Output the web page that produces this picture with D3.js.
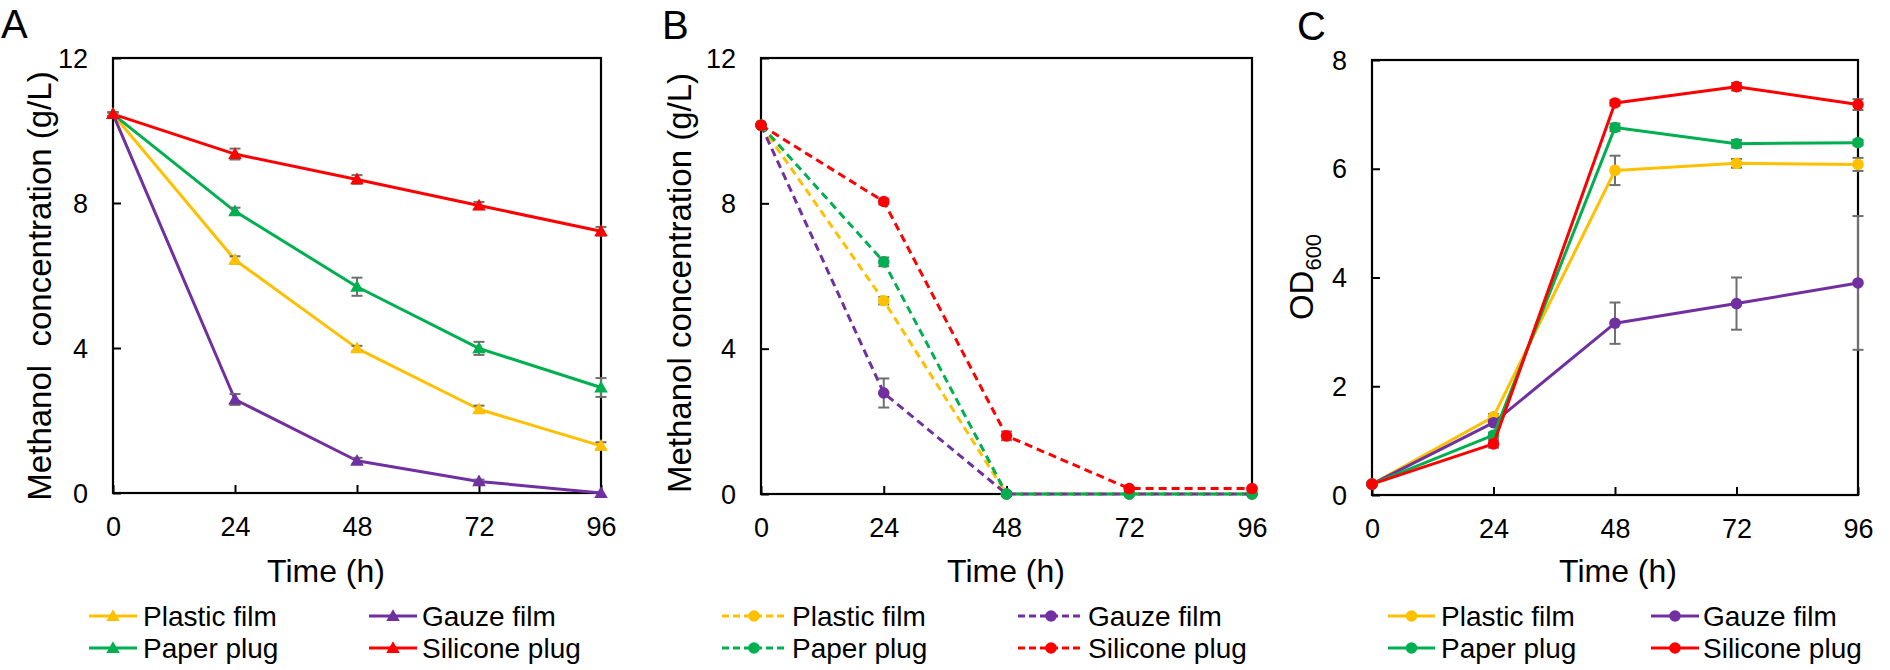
<!DOCTYPE html>
<html><head><meta charset="utf-8">
<script src="https://cdn.jsdelivr.net/npm/d3@7"></script>
<style>
html,body{margin:0;padding:0;background:#fff;}
svg text{font-family:"Liberation Sans",Arial,sans-serif;fill:#000;}
</style></head>
<body>
<svg id="chart" width="1890" height="670"></svg>
<script>
// ---------- data ----------
const times = [0, 24, 48, 72, 96];
const seriesNames = ["Plastic film", "Gauze film", "Paper plug", "Silicone plug"];
const seriesColors = ["#FFC000", "#7030A0", "#00B050", "#FF0000"];

// Panel A: methanol concentration (g/L)
const aPlastic  = [10.45, 6.43, 3.99, 2.31, 1.30];
const aGauze    = [10.45, 2.58, 0.89, 0.32, 0.00];
const aPaper    = [10.45, 7.77, 5.69, 3.99, 2.91];
const aSilicone = [10.45, 9.35, 8.65, 7.93, 7.22];
const aPlasticErr  = [0.05, 0.10, 0.07, 0.10, 0.10];
const aGauzeErr    = [0.05, 0.15, 0.08, 0.05, 0.00];
const aPaperErr    = [0.05, 0.10, 0.25, 0.18, 0.26];
const aSiliconeErr = [0.05, 0.15, 0.12, 0.10, 0.12];

// Panel B: methanol concentration (g/L)
const bPlastic  = [10.15, 5.32, 0, 0, 0];
const bGauze    = [10.15, 2.78, 0, 0, 0];
const bPaper    = [10.15, 6.39, 0, 0, 0];
const bSilicone = [10.15, 8.05, 1.60, 0.15, 0.15];
const bPlasticErr  = [0, 0.10, 0, 0, 0];
const bGauzeErr    = [0, 0.40, 0.06, 0, 0];
const bPaperErr    = [0, 0.12, 0, 0, 0];
const bSiliconeErr = [0, 0.08, 0.12, 0.03, 0.03];

// Panel C: OD600
const cPlastic  = [0.20, 1.44, 5.97, 6.10, 6.08];
const cGauze    = [0.20, 1.33, 3.16, 3.52, 3.90];
const cPaper    = [0.20, 1.10, 6.76, 6.46, 6.48];
const cSilicone = [0.20, 0.94, 7.21, 7.51, 7.18];
const cPlasticErr  = [0.02, 0.05, 0.27, 0.08, 0.12];
const cGauzeErr    = [0.02, 0.05, 0.38, 0.48, 1.23];
const cPaperErr    = [0.02, 0.05, 0.07, 0.07, 0.05];
const cSiliconeErr = [0.02, 0.07, 0.05, 0.07, 0.10];

const xTicks = [0, 24, 48, 72, 96];
const yTicksAB = [0, 4, 8, 12];
const yTicksC = [0, 2, 4, 6, 8];

// ---------- drawing ----------
const svg = d3.select("#chart");
const FONT = '"Liberation Sans",Arial,sans-serif';

const panels = [
  {label:"A", labelX:1, labelY:38, left:113, right:601, top:58, bottom:493,
   ymax:12, yTicks:yTicksAB, marker:"triangle", dashed:false,
   values:[aPlastic,aGauze,aPaper,aSilicone], errs:[aPlasticErr,aGauzeErr,aPaperErr,aSiliconeErr],
   yTitle:"Methanol\u00A0\u00A0concentration (g/L)", yTitleX:51, yTitleY:286, xTitleX:326,
   leg:[{lx0:89,lx1:137,tx:143},{lx0:369,lx1:417,tx:422}]},
  {label:"B", labelX:662, labelY:39, left:761, right:1252, top:58, bottom:494,
   ymax:12, yTicks:yTicksAB, marker:"circle", dashed:true,
   values:[bPlastic,bGauze,bPaper,bSilicone], errs:[bPlasticErr,bGauzeErr,bPaperErr,bSiliconeErr],
   yTitle:"Methanol concentration (g/L)", yTitleX:691, yTitleY:283, xTitleX:1006,
   leg:[{lx0:722,lx1:786,tx:792},{lx0:1018,lx1:1084,tx:1088}]},
  {label:"C", labelX:1297, labelY:40, left:1372, right:1858, top:60, bottom:495,
   ymax:8, yTicks:yTicksC, marker:"circle", dashed:false,
   values:[cPlastic,cGauze,cPaper,cSilicone], errs:[cPlasticErr,cGauzeErr,cPaperErr,cSiliconeErr],
   yTitle:null, yTitleX:1313, yTitleY:277, xTitleX:1618,
   leg:[{lx0:1388,lx1:1435,tx:1441},{lx0:1651,lx1:1699,tx:1703}]}
];

const legendRows = [616, 648];
const triangle = d3.symbol().type(d3.symbolTriangle).size(80);

function drawMarker(g, type, x, y, color){
  if(type === "triangle"){
    g.append("path").attr("d", triangle()).attr("transform", `translate(${x},${y+1})`)
      .attr("fill", color);
  } else {
    g.append("circle").attr("cx", x).attr("cy", y).attr("r", 5.8).attr("fill", color);
  }
}

panels.forEach(p => {
  const x = d3.scaleLinear().domain([0, 96]).range([p.left, p.right]);
  const y = d3.scaleLinear().domain([0, p.ymax]).range([p.bottom, p.top]);
  const g = svg.append("g");

  // panel letter
  svg.append("text").attr("x", p.labelX).attr("y", p.labelY)
    .attr("font-size", 40).text(p.label);

  // axes
  const xAxis = d3.axisBottom(x).tickValues(xTicks).tickSizeInner(-8).tickSizeOuter(0).tickPadding(24);
  const gx = g.append("g").attr("transform", `translate(0,${p.bottom})`).call(xAxis);
  const yAxis = d3.axisLeft(y).tickValues(p.yTicks).tickSizeInner(-8).tickSizeOuter(0).tickPadding(25);
  const gy = g.append("g").attr("transform", `translate(${p.left},0)`).call(yAxis);
  [gx, gy].forEach(a => {
    a.select(".domain").remove();
    a.selectAll(".tick line").attr("stroke", "#000").attr("stroke-width", 2);
    a.selectAll(".tick text").attr("font-size", 27).attr("font-family", FONT).attr("fill", "#000");
  });
  gy.selectAll(".tick text").attr("dy", "0.34em");

  // frame
  g.append("rect").attr("x", p.left).attr("y", p.top)
    .attr("width", p.right - p.left).attr("height", p.bottom - p.top)
    .attr("fill", "none").attr("stroke", "#000").attr("stroke-width", 2.2);

  // series
  const line = d3.line().x((d, i) => x(times[i])).y(d => y(d));
  p.values.forEach((vals, si) => {
    const color = seriesColors[si];
    const sg = g.append("g");
    const path = sg.append("path").attr("d", line(vals)).attr("fill", "none")
      .attr("stroke", color).attr("stroke-width", 3).attr("stroke-linejoin", "round");
    if (p.dashed) path.attr("stroke-dasharray", "8,5");
    // error bars
    vals.forEach((v, i) => {
      const e = p.errs[si][i];
      if (e <= 0) return;
      const cx = x(times[i]);
      const y1 = y(v + e), y0 = y(v - e);
      sg.append("line").attr("x1", cx).attr("x2", cx).attr("y1", y1).attr("y2", y0)
        .attr("stroke", "#6f6f6f").attr("stroke-width", 2);
      [y1, y0].forEach(yy => sg.append("line").attr("x1", cx - 5.5).attr("x2", cx + 5.5)
        .attr("y1", yy).attr("y2", yy).attr("stroke", "#6f6f6f").attr("stroke-width", 2));
    });
    vals.forEach((v, i) => drawMarker(sg, p.marker, x(times[i]), y(v), color));
  });

  // y title
  const yt = svg.append("text").attr("transform", `translate(${p.yTitleX},${p.yTitleY}) rotate(-90)`)
    .attr("text-anchor", "middle").attr("font-size", 33);
  if (p.yTitle) {
    yt.text(p.yTitle);
  } else {
    yt.append("tspan").text("OD");
    yt.append("tspan").attr("font-size", 22).attr("dy", 8).text("600");
  }

  // x title
  svg.append("text").attr("x", p.xTitleX).attr("y", 582).attr("text-anchor", "middle")
    .attr("font-size", 32).text("Time (h)");

  // legend
  seriesNames.forEach((name, si) => {
    const col = p.leg[si % 2];
    const ry = legendRows[Math.floor(si / 2)];
    const lg = svg.append("g");
    const ln = lg.append("line").attr("x1", col.lx0).attr("x2", col.lx1).attr("y1", ry).attr("y2", ry)
      .attr("stroke", seriesColors[si]).attr("stroke-width", 3);
    if (p.dashed) ln.attr("stroke-dasharray", "7,4");
    drawMarker(lg, p.marker, (col.lx0 + col.lx1) / 2, ry, seriesColors[si]);
    lg.append("text").attr("x", col.tx).attr("y", ry + 10).attr("font-size", 28).text(name);
  });
});
</script>
</body></html>
